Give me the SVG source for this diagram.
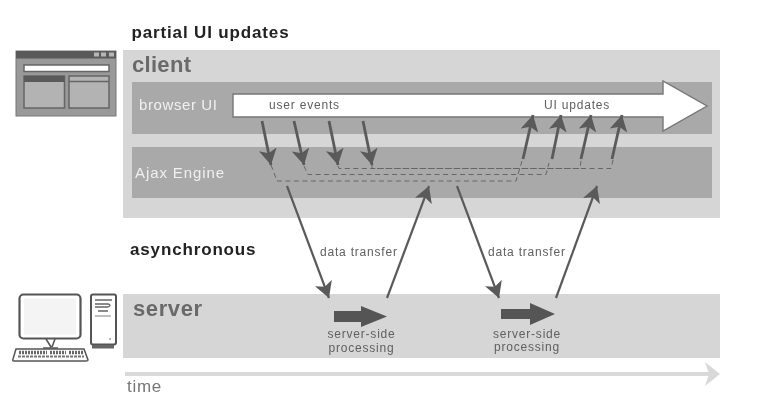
<svg xmlns="http://www.w3.org/2000/svg" width="763" height="411" viewBox="0 0 763 411">
<style>
text{font-family:"Liberation Sans",Arial,sans-serif}
.h{font-size:17px;font-weight:bold;fill:#222;letter-spacing:.85px}
.t{font-size:22px;font-weight:bold;fill:#6a6a6a;letter-spacing:.3px}
.w{font-size:15px;fill:#f0f0f0;letter-spacing:.6px}
.s{font-size:12px;fill:#606060;letter-spacing:.8px}
.m{text-anchor:middle}
.a{fill:none;stroke:#5a5a5a;stroke-width:2.8}
.b{fill:none;stroke:#5a5a5a;stroke-width:2.2}
.d{fill:none;stroke:#666;stroke-width:1;stroke-dasharray:5 3.5}
.i{fill:none;stroke:#555;stroke-width:1.6}
</style>
<defs>
<filter id="soft" x="0" y="0" width="100%" height="100%"><feGaussianBlur stdDeviation="0.45"/></filter>
<marker id="ah" markerUnits="userSpaceOnUse" markerWidth="18" markerHeight="18" refX="16" refY="9" orient="auto"><path d="M0 0L16 9L0 18L4 9Z" fill="#5a5a5a"/></marker>
</defs>
<rect width="763" height="411" fill="#fff"/>
<g filter="url(#soft)">
<g id="client">
<rect x="123" y="50" width="597" height="168" fill="#d6d6d6"/>
<text class="t" x="132" y="72">client</text>
</g>
<g id="browser-ui">
<rect x="132" y="82" width="580" height="52" fill="#a9a9a9"/>
<text class="w" x="139" y="110">browser UI</text>
<path d="M233 94H663V81L707 106L663 131V117H233Z" fill="#fff" stroke="#777" stroke-width="1.400"/>
<text class="s" x="269" y="109">user events</text>
<text class="s" x="544" y="109">UI updates</text>
</g>
<g id="ajax-engine">
<rect x="132" y="147" width="580" height="51" fill="#a9a9a9"/>
<text class="w" x="135" y="178" style="letter-spacing:.9px">Ajax Engine</text>
</g>
<g id="server">
<rect x="123" y="294" width="597" height="64" fill="#d6d6d6"/>
<text class="t" x="133" y="316" style="letter-spacing:.6px">server</text>
<path d="M334 311H361V306L387 316.500L361 327V322H334Z" fill="#555"/>
<text class="s m" x="361.500" y="338">server-side</text>
<text class="s m" x="361.500" y="352">processing</text>
<path d="M501 309H530V303L555 314L530 325V319H501Z" fill="#555"/>
<text class="s m" x="527" y="338">server-side</text>
<text class="s m" x="527" y="351">processing</text>
</g>
<g id="labels">
<text class="h" x="131.500" y="38">partial UI updates</text>
<text class="h" x="130" y="255">asynchronous</text>
<text class="s" x="320" y="256">data transfer</text>
<text class="s" x="488" y="256">data transfer</text>
<text x="127" y="392" style="font-size:17px;fill:#777;letter-spacing:.7px">time</text>
</g>
<g id="connectors">
<path class="d" d="M271 165L277 181H516L522 161"/>
<path class="d" d="M304 166L308 174.500H546L549 163"/>
<path class="d" d="M338 166L339 168.500H580L581 161"/>
<path class="d" d="M372 165V168.500H611L613 160"/>
<path class="a" marker-end="url(#ah)" d="M262 121L271 165"/>
<path class="a" marker-end="url(#ah)" d="M294 121L304 165"/>
<path class="a" marker-end="url(#ah)" d="M329 121L338 165"/>
<path class="a" marker-end="url(#ah)" d="M363 121L372 165"/>
<path class="a" marker-end="url(#ah)" d="M523 159L533 115"/>
<path class="a" marker-end="url(#ah)" d="M552 159L561 115"/>
<path class="a" marker-end="url(#ah)" d="M581 159L591 115"/>
<path class="a" marker-end="url(#ah)" d="M612 159L622 115"/>
<path class="b" marker-end="url(#ah)" d="M287 186L329 298"/>
<path class="b" marker-end="url(#ah)" d="M387 298L429 186"/>
<path class="b" marker-end="url(#ah)" d="M457 186L499 298"/>
<path class="b" marker-end="url(#ah)" d="M556 298L597 186"/>
</g>
<g id="time-axis">
<path d="M125 374H710" stroke="#d9d9d9" stroke-width="4" fill="none"/>
<path d="M705 362L720 374L705 386L709 374Z" fill="#d9d9d9"/>
</g>
<g id="browser-icon">
<rect x="16" y="51" width="100" height="65" fill="#999" stroke="#777"/>
<rect x="16" y="51" width="100" height="7.500" fill="#5a5a5a"/>
<path d="M94 52.500h5v4h-5zM101 52.500h5v4h-5zM109 52.500h5v4h-5z" fill="#b5b5b5"/>
<rect x="24" y="65" width="85" height="6.500" fill="#fff" stroke="#666" stroke-width="1.500"/>
<rect x="24" y="76" width="40.500" height="32" fill="#b3b3b3" stroke="#666" stroke-width="1.500"/>
<rect x="24" y="76" width="40.500" height="6" fill="#5a5a5a"/>
<rect x="69" y="76" width="40" height="32" fill="#b3b3b3" stroke="#666" stroke-width="1.500"/>
<path d="M69 81.500H109" stroke="#666" stroke-width="1.500"/>
</g>
<g id="server-icon">
<rect x="19.500" y="294.500" width="61" height="44" rx="4" fill="#fff" stroke="#555" stroke-width="2.200"/>
<rect x="24" y="298.500" width="52" height="36" fill="#f4f4f4"/>
<path class="i" d="M46 339L51 347M55 339L52 347M43 348H58"/>
<rect x="91" y="294.500" width="25" height="50" rx="2" fill="#fff" stroke="#555" stroke-width="2"/>
<path d="M95 300H112M95 304H108Q112 305 108 307H95M98 311H108" stroke="#666" stroke-width="1.300" fill="none"/>
<path d="M95 316H111" stroke="#aaa" stroke-width="1.500"/>
<path d="M109 339h2" stroke="#666"/>
<rect x="92" y="345" width="22" height="3.500" fill="#666"/>
<path d="M16 349H84L88 360Q88 361 86 361H14Q12 361 13 359Z" fill="#fff" stroke="#555" stroke-width="1.500"/>
<path d="M19 352.500H47M50 352.500H66M69 352.500H84" stroke="#666" stroke-width="3.500" stroke-dasharray="2 1" fill="none"/>
<path d="M18 356.500H84" stroke="#777" stroke-width="2" stroke-dasharray="3 1" fill="none"/>
</g>
</g>
</svg>
